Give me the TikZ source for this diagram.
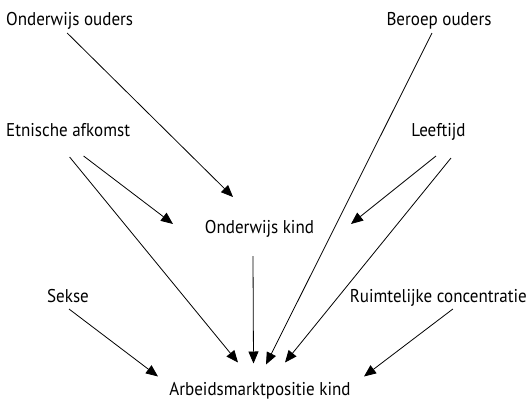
\documentclass[tikz,border=0pt]{standalone}
\usepackage{fontspec}
\setmainfont[FakeStretch=0.92]{PT Sans}
\usetikzlibrary{arrows.meta}
\begin{document}
\begin{tikzpicture}[x=1pt, y=-1pt,
                    lbl/.style={inner sep=0mm, font=\fontsize{18.5}{21}\selectfont},
                    arrow/.style={draw, line width=0.8pt, -{Triangle[length=12pt, width=10pt]}}]
  \useasboundingbox (0,0) rectangle (528,400);
  % factoren
  \node(oo)[lbl, anchor=base west] at (6,25) {Onderwijs ouders};
  \node(bo)[lbl, anchor=base] at (439,25) {Beroep ouders};
  \node(etn)[lbl, anchor=base west] at (6,136) {Etnische afkomst};
  \node(lft)[lbl, anchor=base] at (438.5,136) {Leeftijd};
  \node(ok)[lbl, anchor=base] at (259.5,233) {Onderwijs kind};
  \node(sek)[lbl, anchor=base] at (68,302) {Sekse};
  \node(rui)[lbl, anchor=base east] at (527,302) {Ruimtelijke concentratie};
  \node(arb)[lbl, anchor=base] at (260,395.5) {Arbeidsmarktpositie kind};
  % pijlen
  \draw[arrow] ([shift={(-2.5,8)}]oo.base) -- ([shift={(-26.5,-36)}]ok.base);
  \draw[arrow] ([shift={(-7,8)}]bo.base) -- ([shift={(6,-31)}]arb.base);
  \draw[arrow] ([shift={(15.5,20)}]etn.base) -- ([shift={(-86.5,-9)}]ok.base);
  \draw[arrow] ([shift={(1.5,21)}]etn.base) -- ([shift={(-22,-33)}]arb.base);
  \draw[arrow] ([shift={(-2.5,20)}]lft.base) -- ([shift={(91.5,-9)}]ok.base);
  \draw[arrow] ([shift={(12.5,22)}]lft.base) -- ([shift={(25,-33)}]arb.base);
  \draw[arrow] ([shift={(-6.5,23)}]ok.base) -- ([shift={(-6.5,-32)}]arb.base);
  \draw[arrow] ([shift={(1,7)}]sek.base) -- ([shift={(-102,-19)}]arb.base);
  \draw[arrow] ([shift={(14.5,7)}]rui.base) -- ([shift={(104,-19)}]arb.base);
\end{tikzpicture}
\end{document}
